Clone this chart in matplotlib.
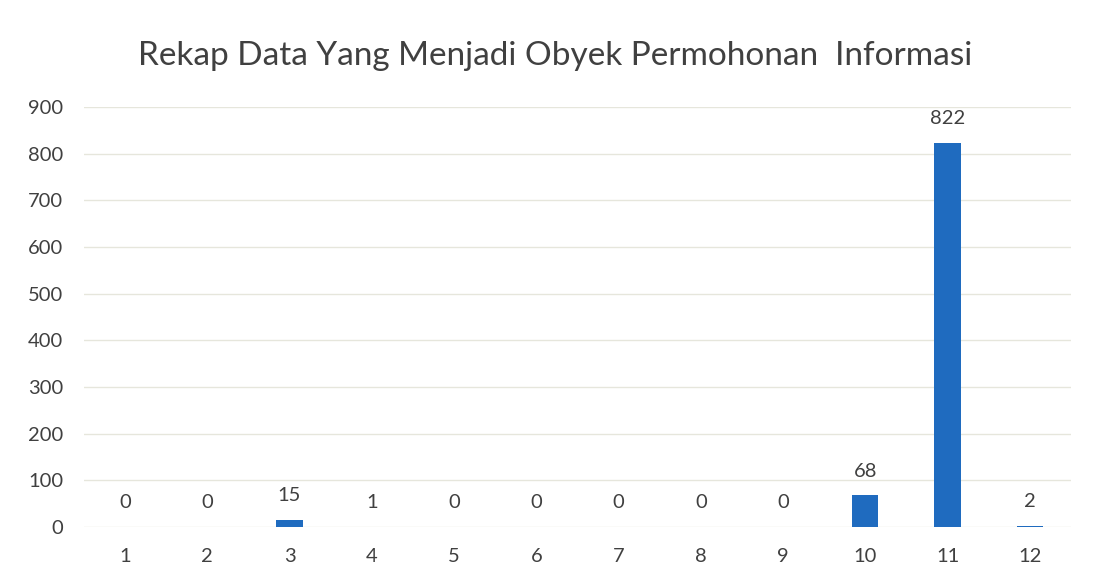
import matplotlib.pyplot as plt

# data
kategori = [str(i) for i in range(1, 13)]
jumlah = [0, 0, 15, 1, 0, 0, 0, 0, 0, 68, 822, 2]

plt.rcParams['font.family'] = ['Lato', 'DejaVu Sans']
teks = '#404040'

fig = plt.figure(figsize=(11.04, 5.87), dpi=100)
ax = fig.add_axes([0.076, 0.102, 0.894, 0.716])

x = range(1, len(jumlah) + 1)
ax.bar(x, jumlah, width=0.32, color='#1f6bbf', zorder=3)

for xi, v in zip(x, jumlah):
    ax.annotate(str(v), (xi, v), xytext=(0, 17.5), textcoords='offset points',
                ha='center', va='center', fontsize=14.5, color=teks)

ax.set_xlim(0.5, 12.5)
ax.set_ylim(0, 900)
ax.set_yticks(range(0, 901, 100))
ax.set_xticks(list(x))
ax.set_xticklabels(kategori)
ax.grid(axis='y', color='#e6e6dc', linewidth=1, zorder=0)
for s in ax.spines.values():
    s.set_visible(False)
ax.tick_params(length=0, labelsize=14.5, labelcolor=teks)
ax.tick_params(axis='y', pad=15)
ax.tick_params(axis='x', pad=15)

fig.text(0.503, 0.905, 'Rekap Data Yang Menjadi Obyek Permohonan  Informasi',
         ha='center', va='center', fontsize=24, color=teks)

fig.savefig('out.png', dpi=100)
